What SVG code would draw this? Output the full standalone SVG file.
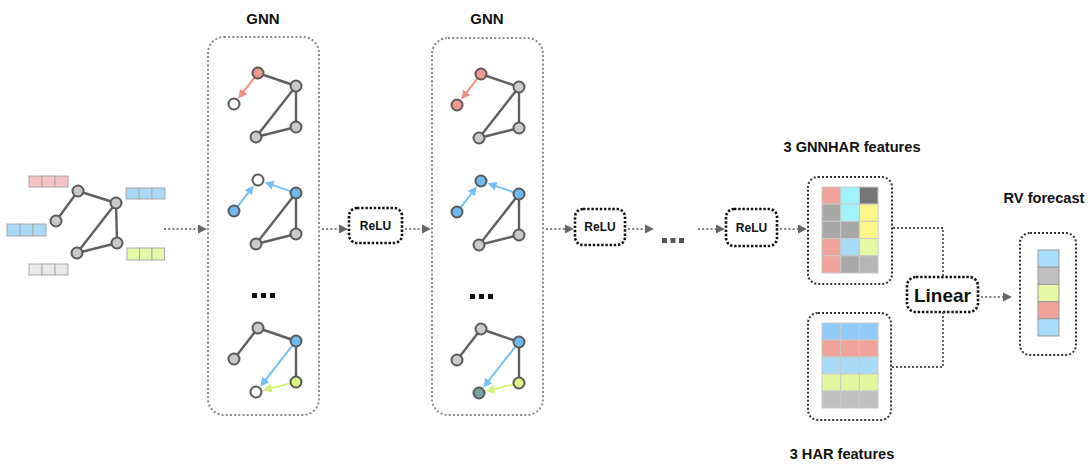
<svg xmlns="http://www.w3.org/2000/svg" width="1092" height="466" viewBox="0 0 1092 466">
<defs>
<style>
.t{font-family:"Liberation Sans",Arial,sans-serif;font-weight:bold;fill:#111;text-anchor:middle}
.gbox{fill:none;stroke:#8a8a8a;stroke-width:2;stroke-dasharray:2 2.2}
.dbox{fill:none;stroke:#111;stroke-width:2.6;stroke-dasharray:2.4 1.8}
.fbox{fill:none;stroke:#333;stroke-width:2;stroke-dasharray:2 2}
.conn{fill:none;stroke:#808080;stroke-width:2;stroke-dasharray:2 2.2}
.conn2{fill:none;stroke:#555;stroke-width:1.8;stroke-dasharray:2 2}
.edge{stroke:#606060;stroke-width:2.4;fill:none}
.n{stroke:#5a5a5a;stroke-width:2}
.gray{fill:#cacaca}
.white{fill:#fff}
.pink{fill:#ee9a8e}
.blue{fill:#6db9f0}
.green{fill:#dcf28a}
.teal{fill:#76a3a3}
.cell{stroke:#c9c9c9;stroke-width:1}
.bar{stroke:#a9a9a9;stroke-width:1}
</style>
<marker id="ga" markerUnits="userSpaceOnUse" markerWidth="10" markerHeight="10" refX="1" refY="5" orient="auto"><path d="M0,0.5 L9,5 L0,9.5 z" fill="#666"/></marker>
<marker id="pa" markerUnits="userSpaceOnUse" markerWidth="10" markerHeight="10" refX="4" refY="5" orient="auto"><path d="M0,0.5 L9,5 L0,9.5 z" fill="#ee8f82"/></marker>
<marker id="ba" markerUnits="userSpaceOnUse" markerWidth="10" markerHeight="10" refX="4" refY="5" orient="auto"><path d="M0,0.5 L9,5 L0,9.5 z" fill="#74c0f5"/></marker>
<marker id="ya" markerUnits="userSpaceOnUse" markerWidth="10" markerHeight="10" refX="4" refY="5" orient="auto"><path d="M0,0.5 L9,5 L0,9.5 z" fill="#d4f27a"/></marker>
</defs>
<rect width="1092" height="466" fill="#fff"/>

<!-- input graph -->
<g id="input-graph">
  <g id="input-features">
    <g fill="#f5c3c3" class="bar"><rect x="29" y="176" width="13" height="11"/><rect x="42" y="176" width="13" height="11"/><rect x="55" y="176" width="13" height="11"/></g>
    <g fill="#a9d9f6" class="bar"><rect x="7" y="224" width="13" height="12"/><rect x="20" y="224" width="13" height="12"/><rect x="33" y="224" width="13" height="12"/></g>
    <g fill="#a9d9f6" class="bar"><rect x="126" y="188" width="13" height="11"/><rect x="139" y="188" width="13" height="11"/><rect x="152" y="188" width="13" height="11"/></g>
    <g fill="#e4f8a8" class="bar"><rect x="127" y="248" width="12.5" height="12"/><rect x="139.5" y="248" width="12.5" height="12"/><rect x="152" y="248" width="12.5" height="12"/></g>
    <g fill="#e9e9e9" class="bar"><rect x="29" y="264" width="13" height="11"/><rect x="42" y="264" width="13" height="11"/><rect x="55" y="264" width="13" height="11"/></g>
  </g>
  <g class="edge">
    <line x1="56" y1="221" x2="78" y2="191"/>
    <line x1="78" y1="191" x2="116" y2="203"/>
    <line x1="116" y1="203" x2="117" y2="243"/>
    <line x1="116" y1="203" x2="77" y2="253"/>
    <line x1="77" y1="253" x2="117" y2="243"/>
  </g>
  <g class="n gray">
    <circle cx="78" cy="191" r="5.5"/><circle cx="56" cy="221" r="5.5"/><circle cx="116" cy="203" r="5.5"/><circle cx="117" cy="243" r="5.5"/><circle cx="77" cy="253" r="5.5"/>
  </g>
</g>

<!-- GNN layer 1 -->
<g id="gnn1">
  <text class="t" x="263" y="24" font-size="15">GNN</text>
  <rect class="gbox" x="208" y="37" width="111" height="378" rx="16"/>
  <g id="gnn1-g1">
    <g class="edge"><line x1="258" y1="73" x2="296" y2="86"/><line x1="296" y1="86" x2="296" y2="127"/><line x1="296" y1="86" x2="256" y2="137"/><line x1="256" y1="137" x2="296" y2="127"/></g>
    <line x1="254.3" y1="77.7" x2="241.3" y2="94.5" stroke="#ee8f82" stroke-width="2" marker-end="url(#pa)"/>
    <g class="n"><circle class="pink" cx="258" cy="73" r="5.5"/><circle class="white" cx="234" cy="104" r="5.5"/><circle class="gray" cx="296" cy="86" r="5.5"/><circle class="gray" cx="296" cy="127" r="5.5"/><circle class="gray" cx="256" cy="137" r="5.5"/></g>
  </g>
  <g id="gnn1-g2" transform="translate(0,107)">
    <g class="edge"><line x1="296" y1="86" x2="296" y2="127"/><line x1="296" y1="86" x2="256" y2="137"/><line x1="256" y1="137" x2="296" y2="127"/></g>
    <line x1="237.7" y1="99.3" x2="250.7" y2="82.5" stroke="#74c0f5" stroke-width="2" marker-end="url(#ba)"/>
    <line x1="290.3" y1="84.1" x2="269.3" y2="76.9" stroke="#74c0f5" stroke-width="2" marker-end="url(#ba)"/>
    <g class="n"><circle class="white" cx="258" cy="73" r="5.5"/><circle class="blue" cx="234" cy="104" r="5.5"/><circle class="blue" cx="296" cy="86" r="5.5"/><circle class="gray" cx="296" cy="127" r="5.5"/><circle class="gray" cx="256" cy="137" r="5.5"/></g>
  </g>
  <g fill="#111"><rect x="252" y="293" width="5" height="5"/><rect x="261" y="293" width="5" height="5"/><rect x="270" y="293" width="5" height="5"/></g>
  <g id="gnn1-g3" transform="translate(0,255)">
    <g class="edge"><line x1="234" y1="104" x2="258" y2="73"/><line x1="258" y1="73" x2="296" y2="86"/><line x1="296" y1="86" x2="296" y2="127"/></g>
    <line x1="292.3" y1="90.7" x2="263.4" y2="127.6" stroke="#74c0f5" stroke-width="2" marker-end="url(#ba)"/>
    <line x1="290.2" y1="128.5" x2="267.6" y2="134.1" stroke="#d4f27a" stroke-width="2" marker-end="url(#ya)"/>
    <g class="n"><circle class="gray" cx="258" cy="73" r="5.5"/><circle class="gray" cx="234" cy="104" r="5.5"/><circle class="blue" cx="296" cy="86" r="5.5"/><circle class="green" cx="296" cy="127" r="5.5"/><circle class="white" cx="256" cy="137" r="5.5"/></g>
  </g>
</g>

<!-- GNN layer 2 -->
<g id="gnn2">
  <text class="t" x="487" y="24" font-size="15">GNN</text>
  <rect class="gbox" x="432" y="38" width="111" height="377" rx="16"/>
  <g id="gnn2-g1" transform="translate(223,1)">
    <g class="edge"><line x1="258" y1="73" x2="296" y2="86"/><line x1="296" y1="86" x2="296" y2="127"/><line x1="296" y1="86" x2="256" y2="137"/><line x1="256" y1="137" x2="296" y2="127"/></g>
    <line x1="254.3" y1="77.7" x2="241.3" y2="94.5" stroke="#ee8f82" stroke-width="2" marker-end="url(#pa)"/>
    <g class="n"><circle class="pink" cx="258" cy="73" r="5.5"/><circle class="pink" cx="234" cy="104" r="5.5"/><circle class="gray" cx="296" cy="86" r="5.5"/><circle class="gray" cx="296" cy="127" r="5.5"/><circle class="gray" cx="256" cy="137" r="5.5"/></g>
  </g>
  <g id="gnn2-g2" transform="translate(223,108)">
    <g class="edge"><line x1="296" y1="86" x2="296" y2="127"/><line x1="296" y1="86" x2="256" y2="137"/><line x1="256" y1="137" x2="296" y2="127"/></g>
    <line x1="237.7" y1="99.3" x2="250.7" y2="82.5" stroke="#74c0f5" stroke-width="2" marker-end="url(#ba)"/>
    <line x1="290.3" y1="84.1" x2="269.3" y2="76.9" stroke="#74c0f5" stroke-width="2" marker-end="url(#ba)"/>
    <g class="n"><circle class="blue" cx="258" cy="73" r="5.5"/><circle class="blue" cx="234" cy="104" r="5.5"/><circle class="blue" cx="296" cy="86" r="5.5"/><circle class="gray" cx="296" cy="127" r="5.5"/><circle class="gray" cx="256" cy="137" r="5.5"/></g>
  </g>
  <g fill="#111"><rect x="470" y="294" width="5" height="5"/><rect x="479" y="294" width="5" height="5"/><rect x="488" y="294" width="5" height="5"/></g>
  <g id="gnn2-g3" transform="translate(223,256)">
    <g class="edge"><line x1="234" y1="104" x2="258" y2="73"/><line x1="258" y1="73" x2="296" y2="86"/><line x1="296" y1="86" x2="296" y2="127"/></g>
    <line x1="292.3" y1="90.7" x2="263.4" y2="127.6" stroke="#74c0f5" stroke-width="2" marker-end="url(#ba)"/>
    <line x1="290.2" y1="128.5" x2="267.6" y2="134.1" stroke="#d4f27a" stroke-width="2" marker-end="url(#ya)"/>
    <g class="n"><circle class="gray" cx="258" cy="73" r="5.5"/><circle class="gray" cx="234" cy="104" r="5.5"/><circle class="blue" cx="296" cy="86" r="5.5"/><circle class="green" cx="296" cy="127" r="5.5"/><circle class="teal" cx="256" cy="137" r="5.5"/></g>
  </g>
</g>

<!-- ReLU nodes -->
<g id="relu1"><rect class="dbox" x="349" y="208" width="53" height="35" rx="8"/><text class="t" x="375.5" y="230" font-size="12">ReLU</text></g>
<g id="relu2"><rect class="dbox" x="575" y="209" width="50" height="36" rx="8"/><text class="t" x="600" y="231" font-size="12">ReLU</text></g>
<g id="ellipsis" fill="#555"><rect x="662" y="238" width="5" height="5"/><rect x="670.5" y="238" width="5" height="5"/><rect x="679" y="238" width="5" height="5"/></g>
<g id="relu3"><rect class="dbox" x="726" y="209" width="51" height="37" rx="8"/><text class="t" x="751.5" y="232" font-size="12">ReLU</text></g>

<!-- GNNHAR features -->
<g id="gnnhar">
  <text class="t" x="852" y="152" font-size="14.6">3 GNNHAR features</text>
  <rect class="fbox" x="808" y="177" width="84" height="107" rx="10"/>
  <g class="cell">
    <rect x="822" y="187" width="18.7" height="17.2" fill="#f0a39a"/><rect x="840.7" y="187" width="18.7" height="17.2" fill="#a0f2fb"/><rect x="859.4" y="187" width="18.6" height="17.2" fill="#767676"/>
    <rect x="822" y="204.2" width="18.7" height="17.2" fill="#a8a8a8"/><rect x="840.7" y="204.2" width="18.7" height="17.2" fill="#a0f2fb"/><rect x="859.4" y="204.2" width="18.6" height="17.2" fill="#fbf78a"/>
    <rect x="822" y="221.4" width="18.7" height="17.2" fill="#a8a8a8"/><rect x="840.7" y="221.4" width="18.7" height="17.2" fill="#a8a8a8"/><rect x="859.4" y="221.4" width="18.6" height="17.2" fill="#fbf78a"/>
    <rect x="822" y="238.6" width="18.7" height="17.2" fill="#f0a39a"/><rect x="840.7" y="238.6" width="18.7" height="17.2" fill="#a9daf7"/><rect x="859.4" y="238.6" width="18.6" height="17.2" fill="#e6f7a6"/>
    <rect x="822" y="255.8" width="18.7" height="17.2" fill="#f0a39a"/><rect x="840.7" y="255.8" width="18.7" height="17.2" fill="#a9a9a9"/><rect x="859.4" y="255.8" width="18.6" height="17.2" fill="#b6b6b6"/>
  </g>
</g>

<!-- HAR features -->
<g id="har">
  <rect class="fbox" x="808" y="313" width="83" height="107" rx="10"/>
  <g class="cell">
    <rect x="822" y="323" width="18.7" height="17" fill="#8fcbf5"/><rect x="840.7" y="323" width="18.7" height="17" fill="#8fcbf5"/><rect x="859.4" y="323" width="18.6" height="17" fill="#8fcbf5"/>
    <rect x="822" y="340" width="18.7" height="17" fill="#f0a39a"/><rect x="840.7" y="340" width="18.7" height="17" fill="#f0a39a"/><rect x="859.4" y="340" width="18.6" height="17" fill="#f0a39a"/>
    <rect x="822" y="357" width="18.7" height="17" fill="#a9dbf9"/><rect x="840.7" y="357" width="18.7" height="17" fill="#a9dbf9"/><rect x="859.4" y="357" width="18.6" height="17" fill="#a9dbf9"/>
    <rect x="822" y="374" width="18.7" height="17" fill="#e3f7a0"/><rect x="840.7" y="374" width="18.7" height="17" fill="#e3f7a0"/><rect x="859.4" y="374" width="18.6" height="17" fill="#e3f7a0"/>
    <rect x="822" y="391" width="18.7" height="17" fill="#c0c0c0"/><rect x="840.7" y="391" width="18.7" height="17" fill="#c0c0c0"/><rect x="859.4" y="391" width="18.6" height="17" fill="#c0c0c0"/>
  </g>
  <text class="t" x="842" y="459" font-size="14.6">3 HAR features</text>
</g>

<!-- Linear -->
<g id="linear"><rect class="dbox" x="907" y="277" width="71" height="35" rx="9"/><text class="t" x="942.5" y="301.5" font-size="19">Linear</text></g>

<!-- RV forecast -->
<g id="rv">
  <text class="t" x="1044" y="203" font-size="14.6">RV forecast</text>
  <rect class="fbox" x="1020" y="233" width="56" height="122" rx="10"/>
  <g stroke="#999" stroke-width="1">
    <rect x="1038" y="250" width="21" height="17.2" fill="#a9dcf8"/>
    <rect x="1038" y="267.2" width="21" height="17.2" fill="#c0c0c0"/>
    <rect x="1038" y="284.4" width="21" height="17.2" fill="#e6f7a6"/>
    <rect x="1038" y="301.6" width="21" height="17.2" fill="#f0a39a"/>
    <rect x="1038" y="318.8" width="21" height="17.2" fill="#a9dcf8"/>
  </g>
</g>

<!-- connectors -->
<g id="connectors">
  <line class="conn" x1="164" y1="229" x2="199" y2="229" marker-end="url(#ga)"/>
  <line class="conn" x1="322" y1="229" x2="340" y2="229" marker-end="url(#ga)"/>
  <line class="conn" x1="405" y1="229" x2="423" y2="229" marker-end="url(#ga)"/>
  <line class="conn" x1="546" y1="229" x2="566" y2="229" marker-end="url(#ga)"/>
  <line class="conn" x1="628" y1="229" x2="646" y2="229" marker-end="url(#ga)"/>
  <line class="conn" x1="698" y1="229" x2="717" y2="229" marker-end="url(#ga)"/>
  <line class="conn" x1="780" y1="229" x2="799" y2="229" marker-end="url(#ga)"/>
  <path class="conn2" d="M893,228 H943 V277"/>
  <path class="conn2" d="M892,367 H943 V312"/>
  <line class="conn" x1="981" y1="297" x2="1004" y2="297" marker-end="url(#ga)"/>
</g>
</svg>
